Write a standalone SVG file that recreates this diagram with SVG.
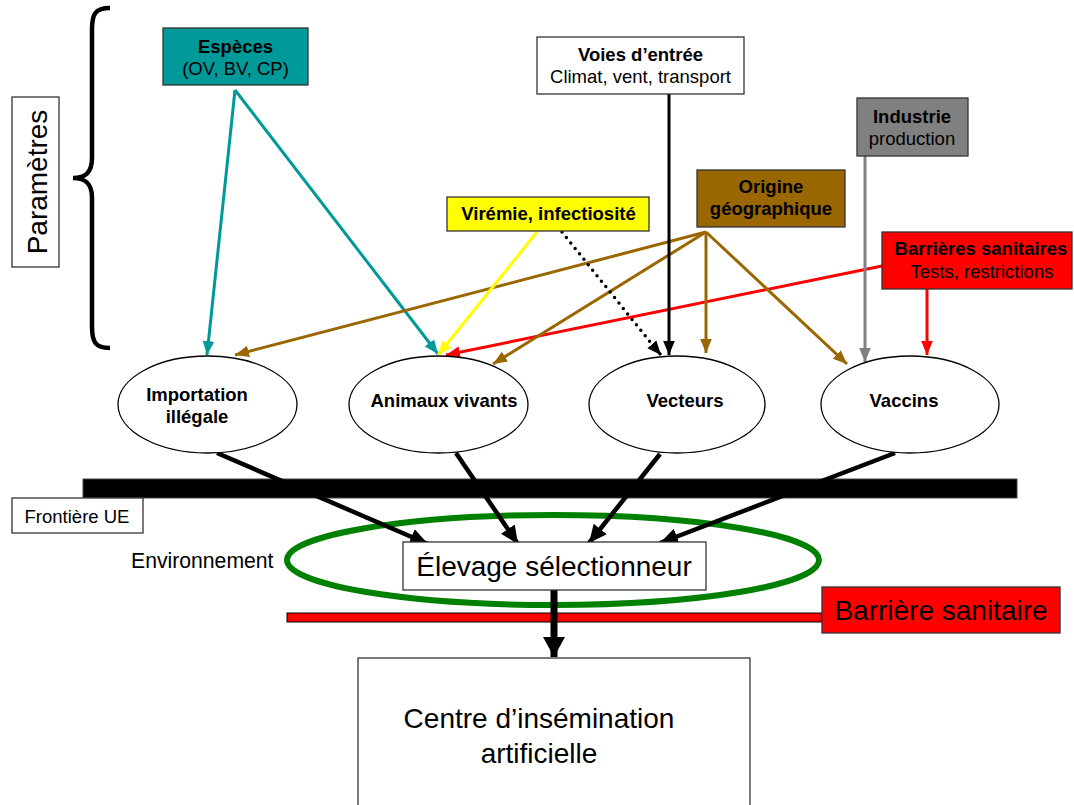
<svg xmlns="http://www.w3.org/2000/svg" width="1074" height="805" viewBox="0 0 1074 805">
  <style>
    text { font-family: "Liberation Sans", Arial, sans-serif; fill: #000; }
    .b { font-weight: bold; font-size: 18.5px; }
    .r { font-size: 18.5px; }
    .big { font-size: 28px; }
    .box { stroke: #333; stroke-width: 1.3; }
    .ell { fill: #fff; stroke: #000; stroke-width: 1.3; }
    .ln { fill: none; stroke-width: 3; }
    .blk { stroke: #000; }
    .teal { stroke: #009999; }
    .yel { stroke: #ffff00; }
    .brn { stroke: #996600; }
    .gry { stroke: #808080; }
    .red { stroke: #ff0000; }
    .thick { fill: none; stroke: #000; stroke-width: 4.5; }
  </style>
  <defs>
    <marker id="aTeal" markerUnits="userSpaceOnUse" markerWidth="14" markerHeight="14" viewBox="0 0 12 12" refX="12" refY="6" orient="auto"><path d="M0,1 L12,6 L0,11 Z" fill="#009999"/></marker>
    <marker id="aYel" markerUnits="userSpaceOnUse" markerWidth="14" markerHeight="14" viewBox="0 0 12 12" refX="12" refY="6" orient="auto"><path d="M0,1 L12,6 L0,11 Z" fill="#ffff00"/></marker>
    <marker id="aBrn" markerUnits="userSpaceOnUse" markerWidth="14" markerHeight="14" viewBox="0 0 12 12" refX="12" refY="6" orient="auto"><path d="M0,1 L12,6 L0,11 Z" fill="#996600"/></marker>
    <marker id="aGry" markerUnits="userSpaceOnUse" markerWidth="14" markerHeight="14" viewBox="0 0 12 12" refX="12" refY="6" orient="auto"><path d="M0,1 L12,6 L0,11 Z" fill="#808080"/></marker>
    <marker id="aRed" markerUnits="userSpaceOnUse" markerWidth="14" markerHeight="14" viewBox="0 0 12 12" refX="12" refY="6" orient="auto"><path d="M0,1 L12,6 L0,11 Z" fill="#ff0000"/></marker>
    <marker id="aBlk" markerUnits="userSpaceOnUse" markerWidth="14" markerHeight="14" viewBox="0 0 12 12" refX="12" refY="6" orient="auto"><path d="M0,1 L12,6 L0,11 Z" fill="#000"/></marker>
    <marker id="aBlkL" markerUnits="userSpaceOnUse" markerWidth="18" markerHeight="18" viewBox="0 0 14 14" refX="14" refY="7" orient="auto"><path d="M0,0.5 L14,7 L0,13.5 Z" fill="#000"/></marker>
    <marker id="aBig" markerUnits="userSpaceOnUse" markerWidth="22" markerHeight="22" viewBox="0 0 20 22" refX="20" refY="11" orient="auto"><path d="M0,0 L20,11 L0,22 Z" fill="#000"/></marker>
  </defs>

  <!-- Parameters label and brace -->
  <g id="parametres">
    <rect x="12" y="97" width="47" height="170" fill="#fff" class="box"/>
    <text class="big" transform="translate(46.5,182) rotate(-90)" text-anchor="middle">Paramètres</text>
  </g>
  <path id="accolade" d="M110,8 C95,8 92,14 92,30 L92,158 C92,172 86,178 73,178 C86,178 92,184 92,198 L92,326 C92,342 95,348 110,348" fill="none" stroke="#000" stroke-width="4.5"/>

  <!-- EU border bar, environment ring, sanitary barrier line -->
  <g id="frontiere">
    <rect x="83" y="479" width="934" height="19" fill="#000" stroke="#444" stroke-width="1"/>
    <rect x="12" y="498" width="131" height="35" fill="#fff" class="box"/>
    <text class="r" x="77" y="523" text-anchor="middle">Frontière UE</text>
  </g>
  <g id="environnement">
    <ellipse cx="553" cy="560" rx="266" ry="45" fill="none" stroke="#008000" stroke-width="6"/>
    <text x="131" y="568" font-size="21.2px">Environnement</text>
  </g>
  <g id="barriere-sanitaire">
    <rect x="287" y="613" width="535" height="9" fill="#ff0000" stroke="#000" stroke-width="1"/>
    <rect x="822" y="587" width="238" height="46" fill="#ff0000" class="box"/>
    <text class="big" x="941" y="620" text-anchor="middle">Barrière sanitaire</text>
  </g>

  <!-- Connectors -->
  <g id="connecteurs">
    <path class="ln teal" d="M235,90 L207,355" marker-end="url(#aTeal)"/>
    <path class="ln teal" d="M235,90 L438,354" marker-end="url(#aTeal)"/>
    <path class="ln brn" d="M706,232 L235,355" marker-end="url(#aBrn)"/>
    <path class="ln yel" d="M537,232 L438,355" marker-end="url(#aYel)"/>
    <path class="ln red" d="M882,266 L446,355" marker-end="url(#aRed)"/>
    <path class="ln brn" d="M706,232 L493,364" marker-end="url(#aBrn)"/>
    <path fill="none" stroke="#000" stroke-width="3.5" stroke-linecap="round" stroke-dasharray="0 7" d="M562,232 L655,348"/>
    <path class="ln blk" d="M655,348 L661,355" marker-end="url(#aBlk)"/>
    <path class="ln blk" stroke-width="3.5" d="M669,94 L669,355" marker-end="url(#aBlk)"/>
    <path class="ln brn" d="M706,232 L706,353" marker-end="url(#aBrn)"/>
    <path class="ln brn" d="M706,232 L847,364" marker-end="url(#aBrn)"/>
    <path class="ln gry" d="M865,156 L865,362" marker-end="url(#aGry)"/>
    <path class="ln red" d="M927,289 L927,355" marker-end="url(#aRed)"/>

    <path class="thick" d="M217,453 L428,544" marker-end="url(#aBlkL)"/>
    <path class="thick" d="M456,453 L518,544" marker-end="url(#aBlkL)"/>
    <path class="thick" d="M660,454 L589,543" marker-end="url(#aBlkL)"/>
    <path class="thick" d="M895,453 L660,543" marker-end="url(#aBlkL)"/>
    <path fill="none" stroke="#000" stroke-width="7" d="M554,590 L554,657" marker-end="url(#aBig)"/>
  </g>

  <!-- Parameter boxes -->
  <g id="especes">
    <rect x="163" y="28" width="145" height="57" fill="#009999" class="box"/>
    <text class="b" x="235.5" y="53" text-anchor="middle">Espèces</text>
    <text class="r" x="235.5" y="75" text-anchor="middle">(OV, BV, CP)</text>
  </g>
  <g id="voies-entree">
    <rect x="537" y="37" width="207" height="57" fill="#fff" class="box"/>
    <text class="b" x="640.5" y="61" text-anchor="middle">Voies d’entrée</text>
    <text class="r" x="640.5" y="83" text-anchor="middle">Climat, vent, transport</text>
  </g>
  <g id="viremie">
    <rect x="447" y="197" width="202" height="34" fill="#ffff00" class="box"/>
    <text class="b" x="548.5" y="220" text-anchor="middle">Virémie, infectiosité</text>
  </g>
  <g id="origine">
    <rect x="697" y="170" width="148" height="57" fill="#996600" class="box"/>
    <text class="b" x="771" y="193" text-anchor="middle">Origine</text>
    <text class="b" x="771" y="215" text-anchor="middle">géographique</text>
  </g>
  <g id="industrie">
    <rect x="857" y="98" width="111" height="58" fill="#808080" class="box"/>
    <text class="b" x="912" y="123" text-anchor="middle">Industrie</text>
    <text class="r" x="912" y="145" text-anchor="middle">production</text>
  </g>
  <g id="barrieres-sanitaires">
    <rect x="882" y="232" width="190" height="57" fill="#ff0000" class="box"/>
    <text class="b" x="981" y="255" text-anchor="middle">Barrières sanitaires</text>
    <text class="r" x="982" y="278" text-anchor="middle">Tests, restrictions</text>
  </g>

  <!-- Pathways -->
  <g id="importation">
    <ellipse class="ell" cx="207.5" cy="404.5" rx="89.5" ry="48.5"/>
    <text class="b" x="197" y="401" text-anchor="middle">Importation</text>
    <text class="b" x="197" y="423" text-anchor="middle">illégale</text>
  </g>
  <g id="animaux">
    <ellipse class="ell" cx="438.5" cy="404.5" rx="89.5" ry="48.5"/>
    <text class="b" x="444" y="407" text-anchor="middle">Animaux vivants</text>
  </g>
  <g id="vecteurs">
    <ellipse class="ell" cx="677" cy="404.5" rx="88" ry="48.5"/>
    <text class="b" x="685" y="407" text-anchor="middle">Vecteurs</text>
  </g>
  <g id="vaccins">
    <ellipse class="ell" cx="910" cy="404.5" rx="89" ry="48.5"/>
    <text class="b" x="904" y="407" text-anchor="middle">Vaccins</text>
  </g>

  <!-- Farm and AI centre -->
  <g id="elevage">
    <rect x="403" y="542" width="303" height="48" fill="#fff" class="box"/>
    <text class="big" x="554" y="576" text-anchor="middle">Élevage sélectionneur</text>
  </g>
  <g id="centre-ia">
    <rect x="358" y="658" width="392" height="160" fill="#fff" class="box"/>
    <text class="big" x="539" y="728" text-anchor="middle">Centre d’insémination</text>
    <text class="big" x="539" y="763" text-anchor="middle">artificielle</text>
  </g>
</svg>
